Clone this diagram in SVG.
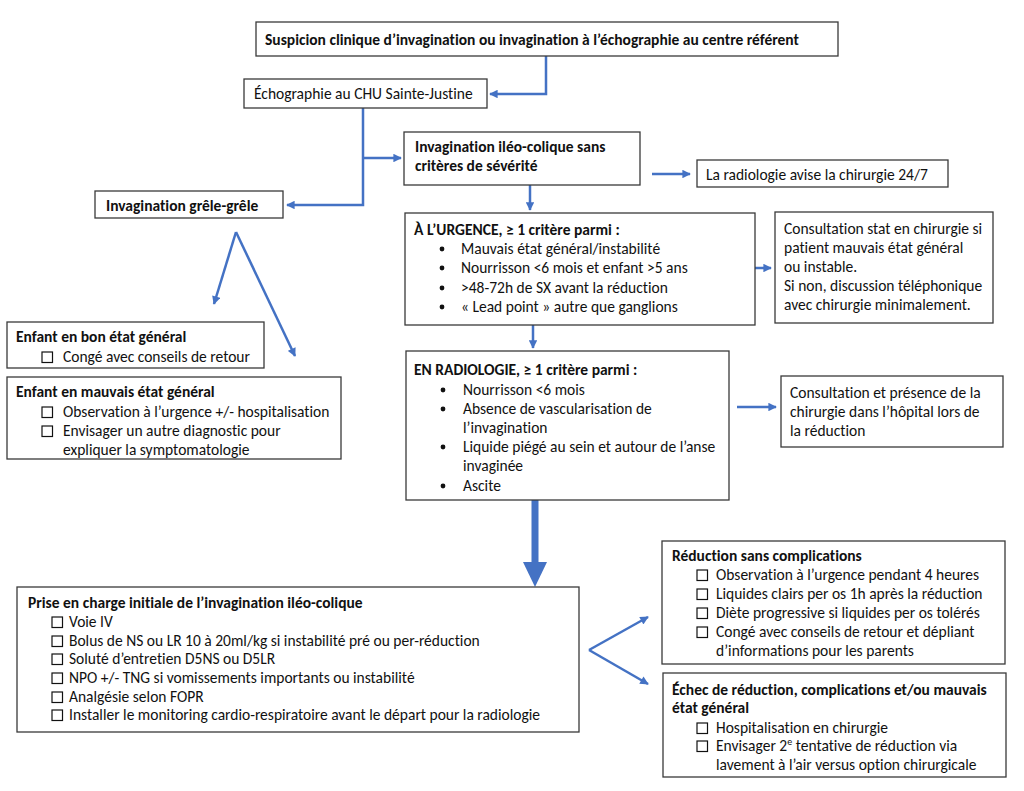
<svg xmlns="http://www.w3.org/2000/svg" width="1024" height="791" viewBox="0 0 1024 791">
<style>
text{font-family:Carlito,Lato,"Liberation Sans",sans-serif;font-size:15.5px;fill:#111;font-variant-ligatures:none}
.b{font-weight:bold}
.box{fill:#fff;stroke:#3a3a3a;stroke-width:1.3}
.cb{fill:none;stroke:#111;stroke-width:1.2}
.c{fill:none;stroke:#4472C4;stroke-width:2.5}
.dot{fill:#111}
</style>
<defs>
<marker id="ah" viewBox="0 0 10 10" refX="9" refY="5" markerWidth="4" markerHeight="3.4" orient="auto" markerUnits="strokeWidth">
<path d="M0,0 L10,5 L0,10 z" fill="#4472C4"/>
</marker>
</defs>
<rect width="1024" height="791" fill="#fff"/>

<g id="connectors">
<path class="c" d="M546,56 V94 H490" marker-end="url(#ah)"/>
<path class="c" d="M363,108 V205 H287" marker-end="url(#ah)"/>
<path class="c" d="M363,158 H401" marker-end="url(#ah)"/>
<path class="c" d="M530,185 V210" marker-end="url(#ah)"/>
<path class="c" d="M652,174 H690" marker-end="url(#ah)"/>
<path class="c" d="M737,268 H771" marker-end="url(#ah)"/>
<path class="c" d="M533,325 V348" marker-end="url(#ah)"/>
<path class="c" d="M737,407 H776" marker-end="url(#ah)"/>
<path class="c" d="M236,232 L214,304" marker-end="url(#ah)"/>
<path class="c" d="M236,232 L295,356" marker-end="url(#ah)"/>
<path class="c" d="M589,650 L648,617" marker-end="url(#ah)"/>
<path class="c" d="M589,650 L648,684" marker-end="url(#ah)"/>
<rect x="531.5" y="500" width="7" height="63" fill="#4472C4"/>
<path d="M523,562 L547,562 L535,587 z" fill="#4472C4"/>
</g>

<g id="n-suspicion">
<rect class="box" x="256" y="22" width="582" height="34"/>
<text class="b" x="265" y="45">Suspicion clinique d’invagination ou invagination à l’échographie au centre référent</text>
</g>

<g id="n-echo">
<rect class="box" x="244" y="79" width="243" height="29"/>
<text x="254" y="99">Échographie au CHU Sainte-Justine</text>
</g>

<g id="n-ileo">
<rect class="box" x="404" y="132" width="236" height="53"/>
<text class="b" x="415" y="152">Invagination iléo-colique sans</text>
<text class="b" x="415" y="171">critères de sévérité</text>
</g>

<g id="n-grele">
<rect class="box" x="95" y="191" width="188" height="27"/>
<text class="b" x="106" y="211">Invagination grêle-grêle</text>
</g>

<g id="n-radio-avise">
<rect class="box" x="697" y="160" width="251" height="27"/>
<text x="706" y="180">La radiologie avise la chirurgie 24/7</text>
</g>

<g id="n-urgence">
<rect class="box" x="405" y="213" width="350" height="112"/>
<text class="b" x="414" y="235">À L’URGENCE, ≥ 1 critère parmi :</text>
<circle class="dot" cx="442" cy="249" r="2.4"/>
<text x="461" y="254">Mauvais état général/instabilité</text>
<circle class="dot" cx="442" cy="268" r="2.4"/>
<text x="461" y="273">Nourrisson &lt;6 mois et enfant &gt;5 ans</text>
<circle class="dot" cx="442" cy="288" r="2.4"/>
<text x="461" y="293">&gt;48-72h de SX avant la réduction</text>
<circle class="dot" cx="442" cy="307" r="2.4"/>
<text x="461" y="312">« Lead point » autre que ganglions</text>
</g>

<g id="n-consult-stat">
<rect class="box" x="775" y="212" width="218" height="111"/>
<text x="784" y="234">Consultation stat en chirurgie si</text>
<text x="784" y="253">patient mauvais état général</text>
<text x="784" y="272">ou instable.</text>
<text x="784" y="291">Si non, discussion téléphonique</text>
<text x="784" y="310">avec chirurgie minimalement.</text>
</g>

<g id="n-radiologie">
<rect class="box" x="406" y="351" width="323" height="149"/>
<text class="b" x="414" y="375">EN RADIOLOGIE, ≥ 1 critère parmi :</text>
<circle class="dot" cx="443" cy="390" r="2.4"/>
<text x="463" y="395">Nourrisson &lt;6 mois</text>
<circle class="dot" cx="443" cy="409" r="2.4"/>
<text x="463" y="414">Absence de vascularisation de</text>
<text x="463" y="433">l’invagination</text>
<circle class="dot" cx="443" cy="447" r="2.4"/>
<text x="463" y="452">Liquide piégé au sein et autour de l’anse</text>
<text x="463" y="471">invaginée</text>
<circle class="dot" cx="443" cy="486" r="2.4"/>
<text x="463" y="491">Ascite</text>
</g>

<g id="n-consult-presence">
<rect class="box" x="781" y="376" width="222" height="71"/>
<text x="790" y="398">Consultation et présence de la</text>
<text x="790" y="417">chirurgie dans l’hôpital lors de</text>
<text x="790" y="436">la réduction</text>
</g>

<g id="n-bon">
<rect class="box" x="7" y="322" width="257" height="46"/>
<text class="b" x="16" y="342">Enfant en bon état général</text>
<rect class="cb" x="42" y="352" width="10.5" height="10.5"/>
<text x="63" y="362">Congé avec conseils de retour</text>
</g>

<g id="n-mauvais">
<rect class="box" x="7" y="377" width="334" height="82"/>
<text class="b" x="16" y="397">Enfant en mauvais état général</text>
<rect class="cb" x="42" y="407" width="10.5" height="10.5"/>
<text x="63" y="417">Observation à l’urgence +/- hospitalisation</text>
<rect class="cb" x="42" y="426" width="10.5" height="10.5"/>
<text x="63" y="436">Envisager un autre diagnostic pour</text>
<text x="63" y="455">expliquer la symptomatologie</text>
</g>

<g id="n-prise">
<rect class="box" x="17" y="587" width="562" height="145"/>
<text class="b" x="28" y="608">Prise en charge initiale de l’invagination iléo-colique</text>
<rect class="cb" x="52" y="617" width="10.5" height="10.5"/>
<text x="69" y="627">Voie IV</text>
<rect class="cb" x="52" y="636" width="10.5" height="10.5"/>
<text x="69" y="646">Bolus de NS ou LR 10 à 20ml/kg si instabilité pré ou per-réduction</text>
<rect class="cb" x="52" y="654" width="10.5" height="10.5"/>
<text x="69" y="664">Soluté d’entretien D5NS ou D5LR</text>
<rect class="cb" x="52" y="673" width="10.5" height="10.5"/>
<text x="69" y="683">NPO +/- TNG si vomissements importants ou instabilité</text>
<rect class="cb" x="52" y="692" width="10.5" height="10.5"/>
<text x="69" y="702">Analgésie selon FOPR</text>
<rect class="cb" x="52" y="710" width="10.5" height="10.5"/>
<text x="69" y="720">Installer le monitoring cardio-respiratoire avant le départ pour la radiologie</text>
</g>

<g id="n-reduction">
<rect class="box" x="662" y="541" width="343" height="123"/>
<text class="b" x="672" y="561">Réduction sans complications</text>
<rect class="cb" x="697" y="570" width="10.5" height="10.5"/>
<text x="716" y="580">Observation à l’urgence pendant 4 heures</text>
<rect class="cb" x="697" y="589" width="10.5" height="10.5"/>
<text x="716" y="599">Liquides clairs per os 1h après la réduction</text>
<rect class="cb" x="697" y="608" width="10.5" height="10.5"/>
<text x="716" y="618">Diète progressive si liquides per os tolérés</text>
<rect class="cb" x="697" y="627" width="10.5" height="10.5"/>
<text x="716" y="637">Congé avec conseils de retour et dépliant</text>
<text x="716" y="656">d’informations pour les parents</text>
</g>

<g id="n-echec">
<rect class="box" x="663" y="673" width="343" height="104"/>
<text class="b" x="672" y="695">Échec de réduction, complications et/ou mauvais</text>
<text class="b" x="672" y="713">état général</text>
<rect class="cb" x="697" y="723" width="10.5" height="10.5"/>
<text x="716" y="733">Hospitalisation en chirurgie</text>
<rect class="cb" x="697" y="741" width="10.5" height="10.5"/>
<text x="716" y="751">Envisager 2<tspan font-size="10" dy="-6">e</tspan><tspan dy="6"> tentative de réduction via</tspan></text>
<text x="716" y="770">lavement à l’air versus option chirurgicale</text>
</g>
</svg>
